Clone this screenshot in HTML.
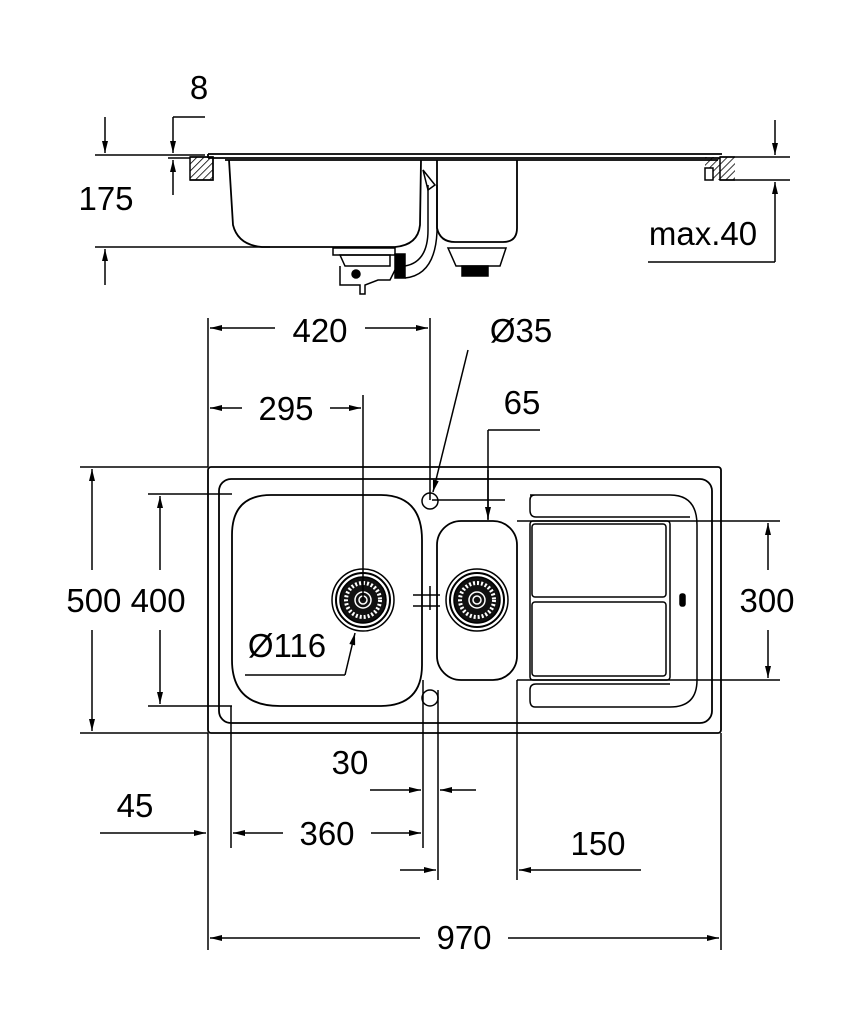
<!DOCTYPE html>
<html><head><style>
html,body{margin:0;padding:0;background:#fff;}
svg{display:block;}
text{font-family:"Liberation Sans",Arial,sans-serif;font-size:33px;fill:#000;}
</style></head><body>
<svg width="854" height="1024" viewBox="0 0 854 1024" xmlns="http://www.w3.org/2000/svg">
<defs>
<marker id="a" viewBox="0 0 12 6" refX="12" refY="3" markerWidth="13" markerHeight="6" orient="auto" markerUnits="userSpaceOnUse"><path d="M0,0L12,3L0,6z" fill="#000"/></marker>
<pattern id="h" width="5" height="5" patternUnits="userSpaceOnUse" patternTransform="rotate(45)"><line x1="0" y1="0" x2="0" y2="5" stroke="#000" stroke-width="1.6"/></pattern>
</defs>
<g fill="none" stroke="#000" stroke-width="1.5">
<rect x="190" y="157" width="23" height="23" fill="url(#h)"/>
<rect x="705" y="157" width="30" height="23" fill="url(#h)" stroke="none"/>
<path d="M190,157H213V180H190"/>
<path d="M735,157H720V180H735"/>
<rect x="705" y="168" width="8" height="12" fill="#fff"/>
<path d="M208,154H722M208,158H720M208,154V158M225,160H718" stroke-width="1.8"/>
<path d="M229,160 L233,225 Q238,245 262,247 L395,247 Q418,245 420,225 L421,160" stroke-width="1.8"/>
<path d="M437,160 V228 Q440,242 455,242 H503 Q517,242 517,228 V160" stroke-width="1.8"/>
<path d="M448,248 H506 L500,266 H456 Z"/>
<rect x="462" y="266" width="26" height="10" fill="#000"/>
<path d="M423,170 L435,185 L428,190 Z"/>
<path d="M428,185 V230 Q428,262 405,266 M437,185 V232 Q435,275 405,278"/>
<rect x="333" y="248" width="62" height="7"/>
<path d="M340,255 H390 V266 H345 Z"/>
<rect x="395" y="254" width="10" height="24" fill="#000"/>
<path d="M340,266 V285 H360 V294 H365 V285 L378,280 H390 L395,270"/>
<circle cx="356" cy="274" r="4" fill="#000"/>
<path d="M95,155H205M95,247H270M168,158H190"/>
<path d="M173,117H205"/>
<line x1="173" y1="117" x2="173" y2="153" marker-end="url(#a)"/>
<line x1="173" y1="195" x2="173" y2="160" marker-end="url(#a)"/>
<line x1="105" y1="117" x2="105" y2="153" marker-end="url(#a)"/>
<line x1="105" y1="285" x2="105" y2="249" marker-end="url(#a)"/>
<path d="M720,157H790M720,180H790M648,262H775"/>
<line x1="775" y1="120" x2="775" y2="155" marker-end="url(#a)"/>
<line x1="775" y1="262" x2="775" y2="182" marker-end="url(#a)"/>

<rect x="208" y="467" width="513" height="266" rx="3" stroke-width="1.8"/>
<rect x="219" y="479" width="493" height="244" rx="12" stroke-width="1.8"/>
<path d="M271,495 H380 Q422,495 422,540 V665 Q422,706 380,706 H280 Q232,706 232,660 V535 Q232,495 271,495 Z" stroke-width="1.8"/>
<rect x="437" y="521" width="80" height="159" rx="24" stroke-width="1.8"/>
<circle cx="430" cy="501" r="8"/>
<circle cx="430" cy="698" r="8"/>
<g>
<circle cx="363" cy="600" r="31"/><circle cx="363" cy="600" r="27" stroke-width="2"/>
<circle cx="363" cy="600" r="23" fill="#111"/>
<circle cx="363" cy="600" r="17" stroke="#fff" stroke-dasharray="2 2" stroke-width="4"/>
<circle cx="363" cy="600" r="8" stroke="#fff"/><circle cx="363" cy="600" r="4" stroke="#fff"/>
<circle cx="477" cy="600" r="31"/><circle cx="477" cy="600" r="27" stroke-width="2"/>
<circle cx="477" cy="600" r="23" fill="#111"/>
<circle cx="477" cy="600" r="17" stroke="#fff" stroke-dasharray="2 2" stroke-width="4"/>
<circle cx="477" cy="600" r="8" stroke="#fff"/><circle cx="477" cy="600" r="4" stroke="#fff"/>
</g>
<path d="M530,495 H670 Q697,495 697,525 V680 Q697,707 670,707 H535 Q530,707 530,700 V690 Q530,684 536,684 H670 M536,517 Q530,517 530,510 V500 Q530,495 535,495 M536,517 H690"/>
<rect x="530" y="521" width="140" height="159" rx="3"/>
<rect x="532" y="524" width="134" height="73" rx="3"/>
<rect x="532" y="602" width="134" height="74" rx="3"/>
<rect x="680" y="594" width="5" height="12" rx="2" fill="#000"/>
<path d="M413,595H440M413,606H440M430,586V610"/>
<path d="M208,318V467M430,318V500M363,395V600M488,430V520M488,430H540M432,500H505"/>
<line x1="275" y1="328" x2="210" y2="328" marker-end="url(#a)"/>
<line x1="365" y1="328" x2="428" y2="328" marker-end="url(#a)"/>
<line x1="242" y1="408" x2="210" y2="408" marker-end="url(#a)"/>
<line x1="330" y1="408" x2="361" y2="408" marker-end="url(#a)"/>
<line x1="488" y1="470" x2="488" y2="519" marker-end="url(#a)"/>
<line x1="468" y1="350" x2="433" y2="492" marker-end="url(#a)"/>
<path d="M80,467H208M80,733H208M148,494H232M148,706H232M517,521H780M517,680H780"/>
<line x1="92" y1="570" x2="92" y2="469" marker-end="url(#a)"/>
<line x1="92" y1="630" x2="92" y2="731" marker-end="url(#a)"/>
<line x1="160" y1="570" x2="160" y2="496" marker-end="url(#a)"/>
<line x1="160" y1="630" x2="160" y2="704" marker-end="url(#a)"/>
<line x1="768" y1="570" x2="768" y2="523" marker-end="url(#a)"/>
<line x1="768" y1="630" x2="768" y2="678" marker-end="url(#a)"/>
<path d="M245,675H345"/>
<line x1="345" y1="675" x2="355" y2="633" marker-end="url(#a)"/>
<path d="M208,733V950M721,733V950M231,706V848M423,680V848M438,690V880M517,680V880"/>
<line x1="370" y1="790" x2="421" y2="790" marker-end="url(#a)"/>
<line x1="476" y1="790" x2="440" y2="790" marker-end="url(#a)"/>
<line x1="100" y1="833" x2="206" y2="833" marker-end="url(#a)"/>
<line x1="283" y1="833" x2="233" y2="833" marker-end="url(#a)"/>
<line x1="371" y1="833" x2="421" y2="833" marker-end="url(#a)"/>
<line x1="400" y1="870" x2="436" y2="870" marker-end="url(#a)"/>
<line x1="641" y1="870" x2="519" y2="870" marker-end="url(#a)"/>
<line x1="420" y1="938" x2="210" y2="938" marker-end="url(#a)"/>
<line x1="508" y1="938" x2="719" y2="938" marker-end="url(#a)"/>
</g>
<text x="199" y="99" text-anchor="middle">8</text>
<text x="106" y="210" text-anchor="middle">175</text>
<text x="703" y="245" text-anchor="middle">max.40</text>
<text x="320" y="342" text-anchor="middle">420</text>
<text x="521" y="342" text-anchor="middle">Ø35</text>
<text x="286" y="420" text-anchor="middle">295</text>
<text x="522" y="414" text-anchor="middle">65</text>
<text x="126" y="612" text-anchor="middle">500 400</text>
<text x="767" y="612" text-anchor="middle">300</text>
<text x="287" y="657" text-anchor="middle">Ø116</text>
<text x="350" y="774" text-anchor="middle">30</text>
<text x="135" y="817" text-anchor="middle">45</text>
<text x="327" y="845" text-anchor="middle">360</text>
<text x="598" y="855" text-anchor="middle">150</text>
<text x="464" y="949" text-anchor="middle">970</text>
</svg>
</body></html>
